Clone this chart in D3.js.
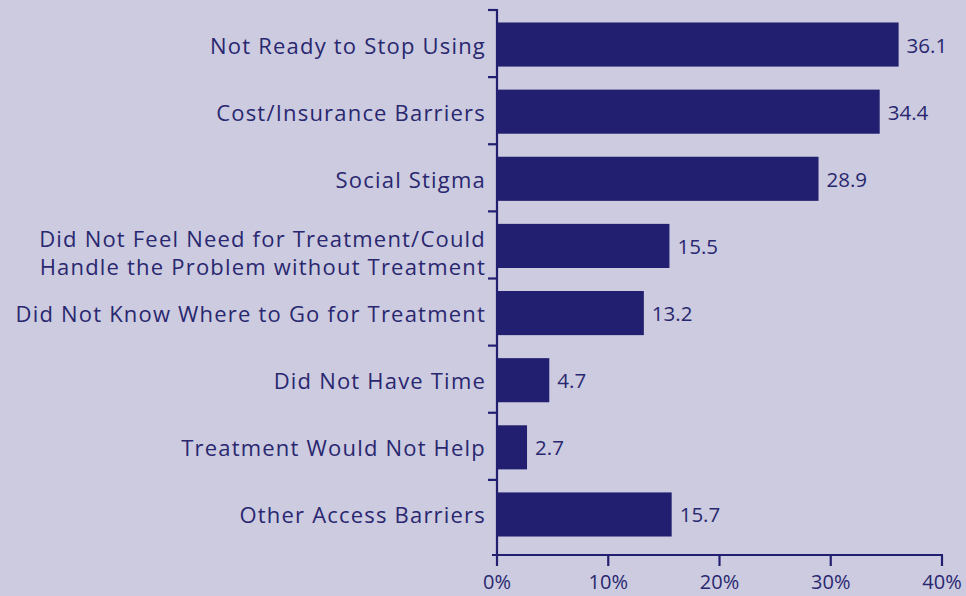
<!DOCTYPE html>
<html><head><meta charset="utf-8">
<script src="https://cdn.jsdelivr.net/npm/d3@7"></script>
<style>
html,body{margin:0;padding:0;background:#cccbe0;}
svg{display:block;}
text{font-family:"Open Sans","Noto Sans",sans-serif;fill:#29276f;}
</style></head><body>
<svg id="c" width="966" height="596"></svg>
<script>
const categories = [
  ["Not Ready to Stop Using"],
  ["Cost/Insurance Barriers"],
  ["Social Stigma"],
  ["Did Not Feel Need for Treatment/Could", "Handle the Problem without Treatment"],
  ["Did Not Know Where to Go for Treatment"],
  ["Did Not Have Time"],
  ["Treatment Would Not Help"],
  ["Other Access Barriers"]
];
const values = [36.1, 34.4, 28.9, 15.5, 13.2, 4.7, 2.7, 15.7];
const valueLabels = ["36.1", "34.4", "28.9", "15.5", "13.2", "4.7", "2.7", "15.7"];
const xTicks = [0, 10, 20, 30, 40];

const svg = d3.select("#c");
const navy = "#231f70";
const pLeft = 497, pRight = 942, pTop = 11, pBandEnd = 548, pBottom = 555;

const x = d3.scaleLinear().domain([0, 40]).range([pLeft, pRight]);
const y = d3.scaleBand().domain(d3.range(categories.length)).range([pTop, pBandEnd]).paddingInner(0.343).paddingOuter(0.171);
const yb = d3.scaleLinear().domain([0, categories.length]).range([pTop, pBandEnd]);

svg.selectAll("rect.bar").data(values).join("rect")
  .attr("x", x(0)).attr("y", (d, i) => y(i))
  .attr("width", d => x(d) - x(0)).attr("height", y.bandwidth())
  .attr("fill", navy);

svg.selectAll("text.val").data(values).join("text")
  .attr("x", d => x(d) + 8).attr("y", (d, i) => y(i) + y.bandwidth() / 2 + 8)
  .attr("font-size", 20.5).text((d, i) => valueLabels[i]);

svg.append("line").attr("x1", pLeft).attr("x2", pLeft).attr("y1", pTop - 2).attr("y2", pBottom)
  .attr("stroke", navy).attr("stroke-width", 2.2);
svg.selectAll("line.yt").data(d3.range(categories.length)).join("line")
  .attr("x1", pLeft - 9).attr("x2", pLeft).attr("y1", d => yb(d) - 1).attr("y2", d => yb(d) - 1)
  .attr("stroke", navy).attr("stroke-width", 2.2);

categories.forEach((lines, i) => {
  const cy = y(i) + y.bandwidth() / 2;
  const lh = 28;
  const n = lines.length;
  const t = svg.append("text").attr("text-anchor", "end").attr("font-size", 22)
    .attr("letter-spacing", 1.2);
  lines.forEach((ln, j) => {
    t.append("tspan").attr("x", 486)
      .attr("y", cy + 9 + (j - (n - 1) / 2) * lh + (n > 1 ? 6 : 0)).text(ln);
  });
});

svg.append("line").attr("x1", pLeft - 5).attr("x2", pRight + 1).attr("y1", pBottom).attr("y2", pBottom)
  .attr("stroke", navy).attr("stroke-width", 2.2);
svg.selectAll("line.xt").data(xTicks).join("line")
  .attr("x1", d => x(d)).attr("x2", d => x(d)).attr("y1", pBottom).attr("y2", pBottom + 11)
  .attr("stroke", navy).attr("stroke-width", 2.2);
svg.selectAll("text.xl").data(xTicks).join("text")
  .attr("x", d => x(d)).attr("y", 589).attr("text-anchor", "middle")
  .attr("font-size", 20).text(d => d + "%");
</script></body></html>
